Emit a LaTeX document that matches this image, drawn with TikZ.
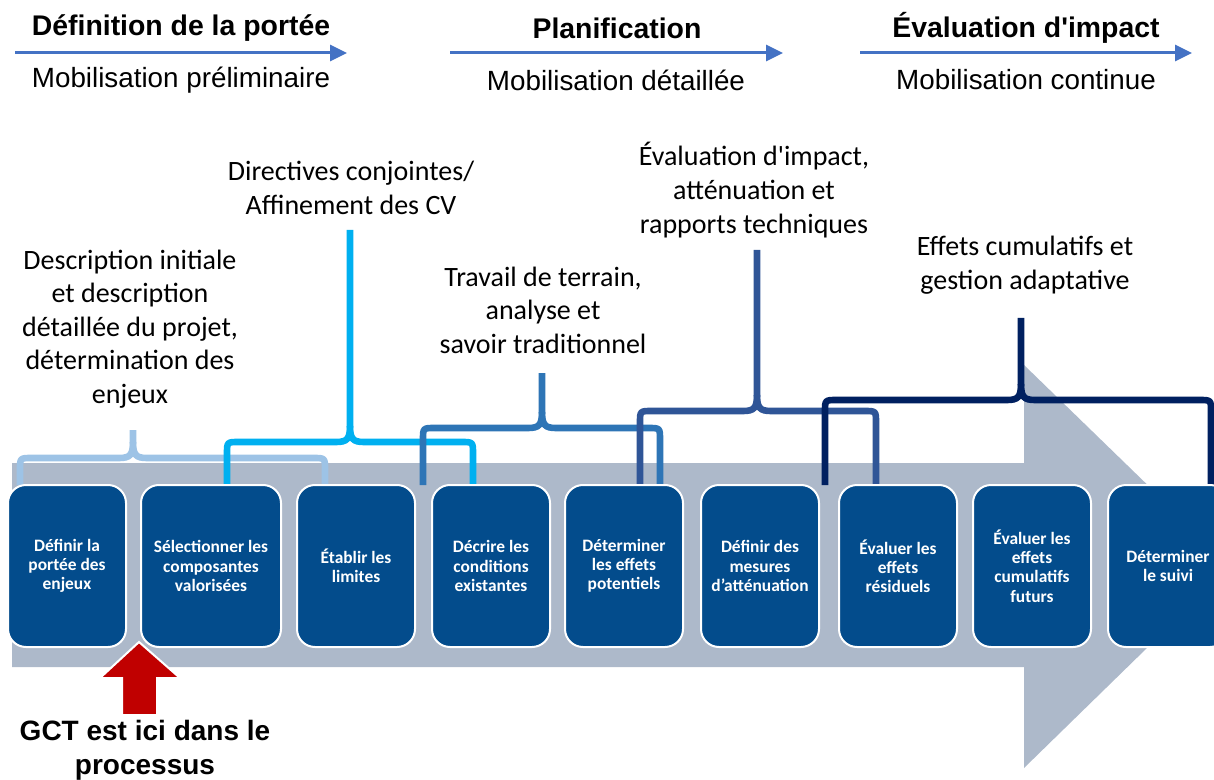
\documentclass[tikz,border=0pt]{standalone}
\usepackage{fontspec}
\setmainfont{Carlito}
\newfontfamily\headfont{Liberation Sans}
\usetikzlibrary{arrows.meta}

\definecolor{boxblue}{HTML}{034C8C}
\definecolor{flowgrey}{HTML}{ADB9CA}
\definecolor{phaseblue}{HTML}{4472C4}
\definecolor{gctred}{HTML}{C00000}
\definecolor{braceA}{HTML}{9DC3E6}
\definecolor{braceB}{HTML}{00B0F0}
\definecolor{braceC}{HTML}{2E75B6}
\definecolor{braceD}{HTML}{2F5597}
\definecolor{braceE}{HTML}{002060}

\tikzset{
  etape/.style={rectangle, rounded corners=9pt, fill=boxblue, draw=white, line width=1pt,
    minimum width=59pt, minimum height=81pt, inner sep=1pt, text=white, align=center,
    font=\bfseries\fontsize{8.7}{9.6}\selectfont},
  cvlabel/.style={align=center, inner sep=0pt, font=\fontsize{14}{16.8}\selectfont},
  phasetitle/.style={inner sep=0pt, font=\headfont\bfseries\fontsize{14.2}{16}\selectfont},
  phasesub/.style={inner sep=0pt, font=\headfont\fontsize{13.9}{16}\selectfont},
  phase/.style={-{Triangle[length=8.5pt,width=8pt]}, line width=1.5pt, phaseblue},
  brace/.style={line width=3.3pt},
}

% brace: colour, left leg, stem, right leg, bar height, stem top
\newcommand\cvbrace[6]{%
  \draw[brace,#1] (#2,485) -- (#2,{#5+12}) .. controls (#2,#5) .. ({#2+12},#5)
    -- ({#3-14},#5) .. controls ({#3-3},#5) and (#3,{#5-3}) .. (#3,{#5-16}) -- (#3,#6);
  \draw[brace,#1] (#4,485) -- (#4,{#5+12}) .. controls (#4,#5) .. ({#4-12},#5)
    -- ({#3+14},#5) .. controls ({#3+3},#5) and (#3,{#5-3}) .. (#3,{#5-16});
}

\begin{document}
\begin{tikzpicture}[x=0.5pt, y=-0.5pt]
\useasboundingbox (0,0) rectangle (1214,780);
\clip (0,0) rectangle (1214,780);

% phases
\node[phasetitle] (h1) at (181,28) {Définition de la portée};
\node[phasetitle] (h2) at (617,28) {Planification};
\node[phasetitle] (h3) at (1026,28) {Évaluation d\textquotesingle impact};
\node[phasesub] (m1) at (181,80) {Mobilisation préliminaire};
\node[phasesub] (m2) at (616,80) {Mobilisation détaillée};
\node[phasesub] (m3) at (1026,80) {Mobilisation continue};
\coordinate (p1s) at (15,53);  \coordinate (p1e) at (347,53);
\coordinate (p2s) at (450,53); \coordinate (p2e) at (783,53);
\coordinate (p3s) at (860,53); \coordinate (p3e) at (1192,53);
\draw[phase] (p1s) -- (p1e);
\draw[phase] (p2s) -- (p2e);
\draw[phase] (p3s) -- (p3e);

% big arrow
\fill[flowgrey] (12,463) -- (1024,463) -- (1024,365) -- (1231,566) -- (1024,768)
  -- (1024,667) -- (12,667) -- cycle;

% labels
\node[cvlabel] (l1) at (130,329) {Description initiale\\et description\\détaillée du projet,\\détermination des\\enjeux};
\node[cvlabel] (l2) at (351,188) {Directives conjointes/\\Affinement des CV};
\node[cvlabel] (l3) at (543,310) {Travail de terrain,\\analyse et\\savoir traditionnel};
\node[cvlabel] (l4) at (754,190) {Évaluation d\textquotesingle impact,\\atténuation et\\rapports techniques};
\node[cvlabel] (l5) at (1025,265) {Effets cumulatifs et\\gestion adaptative};

\cvbrace{braceA}{20}{133}{325}{458}{430}
\cvbrace{braceB}{227}{350}{473}{442}{230}
\cvbrace{braceC}{423}{542}{660}{428}{373}
\cvbrace{braceD}{640}{757}{876}{411}{250}
\cvbrace{braceE}{825}{1021}{1211}{400}{318}

% steps
\node[etape] (b1) at (67,566) {Définir la\\portée des\\enjeux};
\node[etape, minimum width=70pt] (b2) at (211,566) {Sélectionner les\\composantes\\valorisées};
\node[etape] (b3) at (356,566) {Établir les\\limites};
\node[etape] (b4) at (491,566) {Décrire les\\conditions\\existantes};
\node[etape] (b5) at (624,566) {Déterminer\\les effets\\potentiels};
\node[etape] (b6) at (760,566) {Définir des\\mesures\\d’atténuation};
\node[etape] (b7) at (898,566) {Évaluer les\\effets\\résiduels};
\node[etape] (b8) at (1032,566) {Évaluer les\\effets\\cumulatifs\\futurs};
\node[etape, minimum width=60pt] (b9) at (1168,566) {Déterminer\\le suivi};

% GCT marker
\filldraw[fill=gctred, draw=white, line width=1pt] (139,642) -- (180,678) -- (157,678)
  -- (157,715) -- (122,715) -- (122,678) -- (100,678) -- cycle;
\node[phasetitle, align=center, font=\headfont\bfseries\fontsize{14}{17}\selectfont] (gct) at (145,750)
  {GCT est ici dans le\\processus};
\end{tikzpicture}
\end{document}
